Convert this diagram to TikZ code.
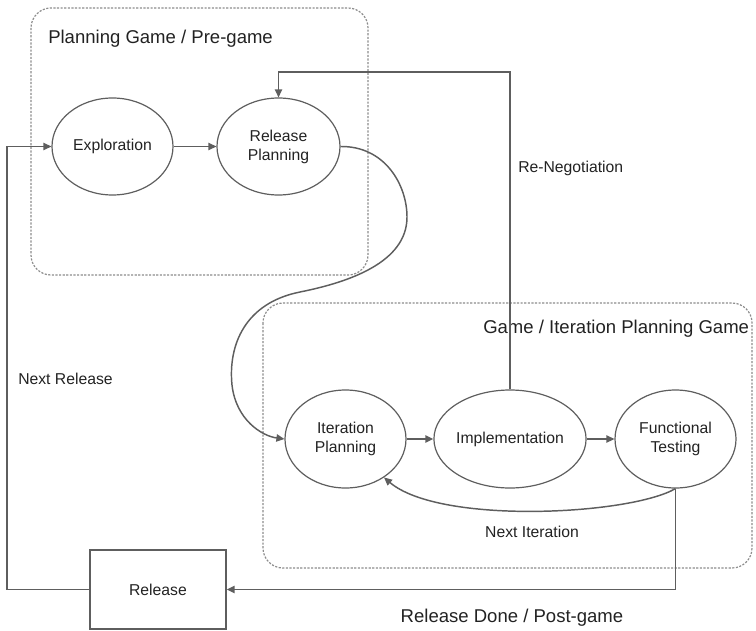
\documentclass[tikz,border=0pt]{standalone}
\usepackage{fontspec}
\setmainfont{Liberation Sans}
\usetikzlibrary{shapes.geometric,arrows.meta}
\definecolor{linegray}{HTML}{5E5E5E}
\definecolor{dashgray}{HTML}{8C8C8C}
\definecolor{txt}{HTML}{222222}
\tikzset{
  state/.style={ellipse,draw=linegray,line width=0.9pt,inner sep=0pt,align=center,
    text=txt,font=\fontsize{11.8}{14.3}\selectfont},
  rbox/.style={rectangle,draw=linegray,line width=1pt,inner sep=0pt,
    text=txt,font=\fontsize{11.8}{14.3}\selectfont},
  conn/.style={draw=linegray,line width=1.1pt,-{Triangle[length=6pt,width=5.5pt]}},
  plain/.style={draw=linegray,line width=1.1pt},
  group/.style={draw=dashgray,line width=0.9pt,dash pattern=on 1.6pt off 1.1pt,rounded corners=15pt},
  biglbl/.style={inner sep=0pt,text=txt,font=\fontsize{13.9}{16}\selectfont},
  lbl/.style={inner sep=0pt,text=txt,font=\fontsize{11.8}{14}\selectfont}
}
\begin{document}
\begin{tikzpicture}[x=0.75pt,y=-0.75pt]
\useasboundingbox (0,0) rectangle (756,631);
% groups
\draw[group] (31,8) rectangle (368,275);
\draw[group] (263,303) rectangle (752,568);
\node[biglbl,anchor=west] (g1) at (48,39) {Planning Game / Pre-game};
\node[biglbl,anchor=west] (g2) at (483,329) {Game / Iteration Planning Game};
% states
\node[state,minimum width=90.75pt,minimum height=72.75pt] (expl) at (112.5,146.5) {Exploration};
\node[state,minimum width=92.25pt,minimum height=72.75pt] (relp) at (278.5,146.5) {Release\\Planning};
\node[state,minimum width=90.75pt,minimum height=73.5pt] (iterp) at (345.5,439) {Iteration\\Planning};
\node[state,minimum width=90pt,minimum height=73.5pt] (impl) at (510,439) {Implementation};
\node[state,minimum width=90.75pt,minimum height=73.5pt] (ftest) at (675.5,439) {Functional\\Testing};
\node[rbox,minimum width=102pt,minimum height=59.25pt] (release) at (158,589.5) {Release};
% coordinates
\coordinate (rn) at (510,72);
\coordinate (nr) at (7,146.5);
\coordinate (rd) at (675.5,589.5);
% connectors
\draw[conn] (expl) -- (relp);
\draw[conn] (iterp) -- (impl);
\draw[conn] (impl) -- (ftest);
\draw[conn] (impl.north) -- (rn) -| (relp.north);
\draw[conn] (release.west) -| (nr) -- (expl.west);
\draw[conn] (ftest.south) -- (rd) -- (release.east);
\draw[conn] (relp.east) .. controls (385,146) and (407,185) .. (407,217)
  .. controls (407,262) and (350,282) .. (300,292)
  .. controls (245,303) and (228,345) .. (232,385)
  .. controls (236,420) and (262,436) .. (iterp.west);
\draw[conn] (ftest.south) .. controls (630,515) and (440,525) .. (iterp.-45);
% labels
\node[lbl,anchor=west] (lrn) at (518,168) {Re-Negotiation};
\node[lbl,anchor=west] (lnr) at (18,379) {Next Release};
\node[lbl] (lni) at (532,532) {Next Iteration};
\node[biglbl] (lrd) at (512,618) {Release Done / Post-game};
\end{tikzpicture}
\end{document}
